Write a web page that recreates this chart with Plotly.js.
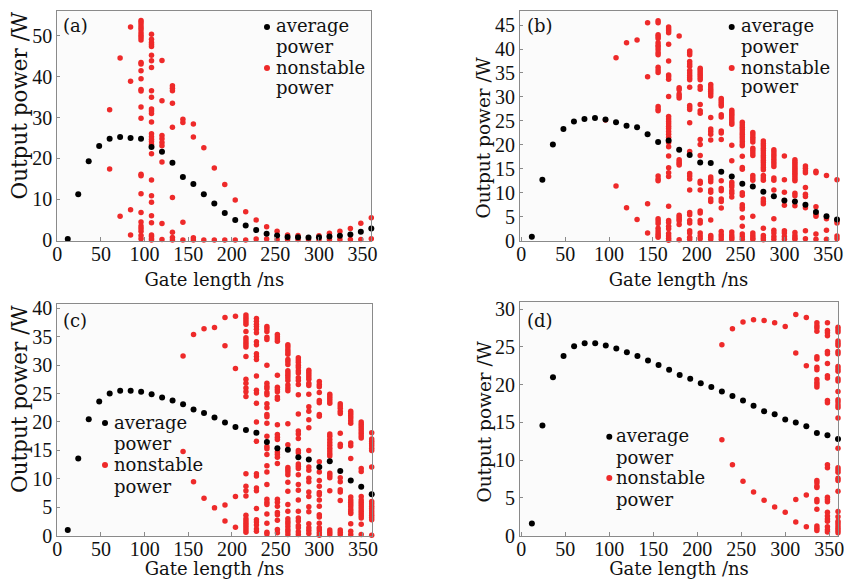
<!DOCTYPE html>
<html><head><meta charset="utf-8">
<script src="https://cdn.plot.ly/plotly-3.0.1.min.js"></script>
<style>html,body{margin:0;padding:0;background:#fff}</style>
</head><body><div id="chart" style="width:844px;height:579px"></div>
<script>
// ---------- DATA ----------
const gateLength = [12,24,36,48,60,72,84,96,108,120,132,144,156,168,180,192,204,216,228,240,252,264,276,288,300,312,324,336,348,360];

const avgA = [0.2,11.2,19.3,23.0,24.8,25.2,25.0,24.8,22.8,21.6,18.9,15.4,13.7,11.2,8.9,6.6,4.9,3.5,2.4,1.5,1.1,0.7,0.65,0.6,0.65,0.8,1.0,1.3,2.0,2.8];
const avgB = [0.8,12.7,20.1,23.3,24.9,25.4,25.6,25.3,24.7,24.0,23.7,22.2,20.6,20.9,19.0,17.9,16.3,16.2,14.4,13.4,11.9,11.3,10.2,9.3,8.4,8.2,7.5,6.0,5.1,4.4];
const avgC = [1.0,13.6,20.5,23.6,25.0,25.5,25.5,25.3,24.9,24.3,23.8,23.1,22.2,21.6,20.8,19.9,19.1,18.6,18.1,16.5,15.4,15.1,13.8,13.4,12.1,13.1,11.4,9.7,8.6,7.3];
const avgD = [1.6,14.6,21.0,23.8,25.1,25.5,25.5,25.2,24.8,24.3,23.8,23.2,22.6,22.0,21.3,20.8,20.2,19.7,19.1,18.5,17.9,17.2,16.5,16.1,15.4,15.0,14.5,13.6,13.3,12.8];

// nonstable power: [gate length, [values]]
const nonstableA = [
 [60,[31.9,17.4]],
 [72,[44.6,5.8]],
 [84,[52.2,38.9,7.4,1.2]],
 [96,[53.8,53.3,52.7,52.1,51.5,50.8,50.2,49.6,49.0,43.5,43.1,41.5,39.5,36.9,36.5,32.6,29.8,16.1,15.7,11.3,6.7,4.4,3.4,2.8,2.1,1.1,0.3]],
 [108,[50.4,49.2,48.4,47.9,47.4,45.3,43.9,42.3,36.6,35.0,32.1,31.6,31.0,28.9,26.0,25.3,24.7,24.1,23.4,21.1,14.7,10.8,9.2,5.9,4.2,1.2,0.8,0.3,0.0]],
 [120,[44.0,34.1,25.6,24.8,23.9,23.1,19.1,4.0,0.1]],
 [132,[37.8,37.2,36.6,33.5,27.6,10.4,1.9,0.6,0.0]],
 [144,[29.6,28.8,4.3,0.0]],
 [156,[28.4,25.2,0.5,0.0]],
 [168,[22.6,0.0]],
 [180,[17.6,0.0]],
 [192,[13.6,0.0]],
 [204,[9.8,0.0]],
 [216,[6.9,0.0]],
 [228,[4.9,0.2]],
 [240,[3.2,0.2]],
 [252,[2.1,0.1]],
 [264,[1.2,0.1]],
 [276,[1.05,0.1]],
 [288,[0.1]],
 [300,[1.0,0.1]],
 [312,[1.6,0.1]],
 [324,[2.1,0.1]],
 [336,[2.8,0.1]],
 [348,[4.1,0.1]],
 [360,[5.4,0.3]]
];
const nonstableB = [
 [96,[25.2]],
 [108,[38.2,11.4]],
 [120,[41.3,6.9]],
 [132,[41.9,4.4]],
 [144,[45.5,34.2,7.7,1.6]],
 [156,[45.9,45.5,43.0,42.6,42.2,41.3,40.8,40.4,39.9,39.3,38.8,36.2,35.6,35.1,28.0,27.5,27.1,13.5,12.9,12.5,4.6,4.1,3.6,2.6,2.0,1.5,1.1,0.7]],
 [168,[44.6,44.2,43.8,43.4,41.0,37.5,34.6,34.2,33.7,30.1,25.9,25.4,24.9,24.4,23.9,23.4,22.8,22.2,21.6,20.5,19.6,17.7,15.2,14.2,13.4,7.2,4.2,3.8,3.0,2.5,1.5,1.0,0.5,0.1]],
 [180,[42.7,31.9,31.5,30.6,30.2,29.8,16.9,16.5,16.1,15.8,5.3,4.9,4.5,4.1,3.4,0.2]],
 [192,[39.6,39.2,38.8,37.4,36.9,36.4,35.5,35.0,34.5,34.0,33.6,32.0,28.2,27.8,27.4,24.6,18.6,14.0,13.5,12.9,10.6,5.9,5.4,4.2,3.7,2.1,1.6,0.7,0.3]],
 [204,[36.0,35.6,35.2,34.8,34.4,34.0,33.6,32.2,31.6,28.4,27.1,26.6,21.1,20.1,17.8,12.4,12.0,10.6,6.2,5.8,4.2,3.7,1.6,1.0,0.4]],
 [216,[32.6,32.1,31.6,31.2,30.7,30.2,25.7,23.3,22.8,22.2,21.0,13.3,12.8,12.3,10.6,10.1,8.7,8.2,4.3,1.1,0.7,0.3]],
 [228,[29.7,29.3,28.9,28.5,28.1,26.3,25.8,22.9,22.5,21.1,12.5,10.9,10.4,8.7,8.2,6.8,1.9,1.3,0.8,0.3]],
 [240,[27.2,26.8,26.4,26.0,25.6,25.2,24.7,24.3,19.9,16.7,12.2,11.7,11.2,10.4,9.9,9.1,1.8,1.2,0.7,0.3]],
 [252,[24.7,24.2,23.7,23.2,22.7,22.2,21.7,21.2,20.7,20.2,19.8,17.6,15.3,14.9,10.0,9.5,7.5,7.0,6.6,4.8,3.0,1.4,0.8,0.3]],
 [264,[22.6,22.1,21.6,21.1,20.6,19.3,18.8,18.3,17.8,13.6,13.1,12.6,5.1,1.6,1.1,0.6,0.3]],
 [276,[20.8,20.3,19.8,19.3,18.8,18.3,17.8,17.3,16.8,16.3,15.8,15.3,14.8,13.6,13.1,12.6,8.7,8.2,7.7,2.6,1.1,0.6,0.2]],
 [288,[19.0,18.5,18.0,17.5,17.0,16.5,16.0,15.5,13.1,12.6,10.6,4.6,2.2,1.6,0.9,0.3]],
 [300,[17.7,12.7,10.1,7.4,2.1,1.6,0.9,0.3]],
 [312,[16.9,16.5,16.1,15.7,15.3,14.9,14.5,14.1,13.7,13.3,12.9,12.5,9.9,9.4,7.3,1.7,1.1,0.6,0.3]],
 [324,[15.6,15.1,14.6,14.2,11.1,9.7,9.2,6.9,2.1,0.4]],
 [336,[14.5,14.2,7.1,5.5,5.1,1.4,0.3]],
 [348,[13.6,4.6,2.2,0.3]],
 [360,[12.7,4.1,3.7,1.0,0.4]]
];
const nonstableC = [
 [144,[31.6,14.8]],
 [156,[35.4,9.5]],
 [168,[36.4,6.6]],
 [180,[36.6,4.9]],
 [192,[38.4,33.4,5.4,2.6]],
 [204,[38.6,29.4,6.9,1.5]],
 [216,[38.8,38.4,38.0,37.6,37.2,35.9,34.8,34.4,34.0,33.6,33.2,31.5,27.5,26.8,26.0,25.3,24.5,10.9,8.7,7.9,7.0,3.6,3.0,2.6,2.2,1.8,1.4,1.0,0.6]],
 [228,[38.2,37.7,37.2,36.8,36.3,35.7,34.1,33.6,32.0,31.5,31.0,28.1,25.6,25.1,23.3,20.0,16.6,10.9,10.5,8.4,7.9,4.8,2.8,2.4,1.9,1.2,0.8]],
 [240,[36.8,36.4,35.9,34.9,34.5,30.0,26.8,26.3,25.9,25.2,24.8,23.2,22.5,21.3,20.9,19.8,17.5,15.7,15.3,14.3,12.3,11.2,9.0,6.4,5.9,5.5,3.8,2.2,0.6,0.3]],
 [252,[35.4,35.0,34.6,34.2,28.2,26.1,25.7,25.3,24.4,24.0,19.5,17.8,17.3,16.9,14.7,14.3,13.8,12.7,6.4,5.9,5.2,4.1,3.7,2.7,1.1,0.5]],
 [264,[33.6,33.2,32.7,32.3,31.9,31.0,30.6,30.1,29.0,28.6,28.2,27.8,27.3,26.5,26.0,25.5,19.7,16.0,12.0,11.6,11.2,10.7,9.4,7.8,5.5,4.3,3.0,2.5,2.1,1.6,1.1,0.7,0.2]],
 [276,[31.3,30.9,30.5,30.0,29.6,29.0,28.6,27.8,27.3,26.6,24.8,21.4,18.4,17.9,17.1,15.0,14.6,12.6,12.2,11.8,10.7,9.0,8.0,6.3,4.3,3.1,2.6,1.8,1.4,0.7,0.2]],
 [288,[29.1,28.7,28.3,27.9,27.5,26.8,26.4,24.9,22.7,21.9,20.4,19.0,15.0,12.1,11.5,10.1,9.5,7.7,6.9,5.1,4.2,2.1,1.4,0.9,0.4]],
 [300,[27.1,26.6,26.2,25.2,23.8,23.4,21.3,21.0,13.0,11.2,9.7,8.7,7.6,7.2,6.3,5.2,3.7,3.3,2.2,1.4,1.0,0.5,0.1]],
 [312,[24.9,24.5,24.1,23.7,23.3,17.9,17.5,16.9,16.4,15.9,15.4,14.9,14.4,14.0,11.0,10.6,10.2,7.9,1.0,0.6,0.2]],
 [324,[23.2,22.8,22.4,21.9,21.5,18.0,16.1,15.7,10.2,9.5,8.1,7.7,6.2,1.0,0.6,0.2]],
 [336,[21.9,21.5,21.1,20.7,20.2,19.8,16.3,15.8,13.6,6.8,6.3,5.9,5.5,5.1,4.6,4.2,3.9,2.1,0.8,0.2]],
 [348,[20.0,19.6,19.2,18.8,18.4,18.0,17.6,17.2,11.8,11.3,6.9,6.3,5.9,5.5,5.1,4.7,4.3,3.9,3.5,3.1,2.0,0.2]],
 [360,[18.1,17.0,16.6,16.2,15.8,15.4,15.0,12.1,6.0,5.6,5.2,4.8,4.4,4.0,3.6,3.2,2.8,0.1]]
];
const nonstableD = [
 [228,[25.3,12.7]],
 [240,[27.4,9.4]],
 [252,[28.3,7.2]],
 [264,[28.6,5.8]],
 [276,[28.5,4.7]],
 [288,[28.2,3.8]],
 [300,[27.7,3.1]],
 [312,[29.3,24.2,4.8,1.8]],
 [324,[28.9,22.5,5.4,1.2]],
 [336,[28.2,27.8,27.5,27.1,23.7,23.4,22.3,22.0,20.7,20.3,20.0,19.7,7.3,7.0,6.6,6.4,4.8,4.5,3.5,1.3,1.0,0.7]],
 [348,[28.2,27.2,26.9,26.5,24.4,24.1,22.8,21.2,20.9,17.9,17.6,9.4,9.0,5.1,4.8,4.5,3.1,2.6,2.2,1.9,1.2,0.8,0.5]],
 [360,[27.6,27.3,27.0,25.8,25.5,25.2,24.4,24.1,22.4,22.1,21.8,20.8,20.5,19.1,18.0,17.7,17.3,17.0,15.6,11.6,9.0,8.7,8.4,7.6,7.3,5.9,3.2,2.5,1.9,1.6,1.3,1.0,0.7,0.4]]
];

const panelLabels = ['(a)','(b)','(c)','(d)'];
const legendLines = ['average','power','nonstable','power'];
const xTitle = 'Gate length /ns';
const yTitle = 'Output power /W';

// ---------- LAYOUT ----------
const W = 844, H = 579;
const FONT = 'DejaVu Serif, serif';
const TICKFONT = 'Liberation Serif, serif';
const RED = '#ee2a2a';
const FRAME = '#8a8a8a';
const INK = '#111';
const px = v => v / W;
const py = v => 1 - v / H;

const panels = [
  {avg: avgA, red: nonstableA, box: [57.3, 371.3, 10.7, 240.7], xr: [0, 360],    yr: [-0.2, 56.2], dy: 10,
   dot: 267,   text: 274,   base: [32, 52, 73, 94],       lab: [61, 25],  yt: [19, 105.5, 21.5]},
  {avg: avgB, red: nonstableB, box: [520, 837, 10.7, 240.7],    xr: [-1.5, 360], yr: [0, 48],      dy: 5,
   dot: 731.7, text: 738.7, base: [32, 52, 73, 93],       lab: [525, 25], yt: [483.5, 138, 18.5]},
  {avg: avgC, red: nonstableC, box: [57.3, 371.7, 304.3, 535.7], xr: [0, 360],   yr: [0, 40.7],    dy: 5,
   dot: 105,   text: 112,   base: [428, 450, 470, 492],   lab: [61, 320], yt: [19, 399, 21.5]},
  {avg: avgD, red: nonstableD, box: [520, 838, 301.7, 535.7],   xr: [-1.5, 360], yr: [0, 31],      dy: 5,
   dot: 609.3, text: 614.3, base: [441.7, 463, 483, 505], lab: [525, 320], yt: [483.5, 422, 18.5]}
];

function flatten(cols) {
  const x = [], y = [];
  cols.forEach(([g, vals]) => vals.forEach(v => { x.push(g); y.push(v); }));
  return {x, y};
}

const data = [];
const layout = {
  width: W, height: H, autosize: false,
  margin: {l: 0, r: 0, t: 0, b: 0},
  paper_bgcolor: '#ffffff', plot_bgcolor: '#fbfbfb',
  showlegend: false,
  font: {family: FONT, size: 18, color: INK},
  annotations: [], shapes: []
};

panels.forEach((p, i) => {
  const n = i + 1;
  const xa = 'x' + (n === 1 ? '' : n), ya = 'y' + (n === 1 ? '' : n);
  const r = flatten(p.red);
  data.push({type: 'scatter', mode: 'markers', x: r.x, y: r.y, xaxis: xa, yaxis: ya,
    name: 'nonstable power', cliponaxis: false, hoverinfo: 'x+y',
    marker: {color: RED, size: 5.5, line: {width: 0}}});
  data.push({type: 'scatter', mode: 'markers', x: gateLength, y: p.avg, xaxis: xa, yaxis: ya,
    name: 'average power', cliponaxis: false, hoverinfo: 'x+y',
    marker: {color: '#000', size: 6, line: {width: 0}}});

  const [x0, x1, top, bot] = p.box;
  layout['xaxis' + (n === 1 ? '' : n)] = {
    domain: [px(x0), px(x1)], range: p.xr, anchor: ya,
    showline: true, mirror: true, linecolor: FRAME, linewidth: 1,
    ticks: 'inside', ticklen: 4, tickcolor: FRAME, tick0: 0, dtick: 50,
    showgrid: false, zeroline: false, ticklabeloverflow: 'allow', ticklabelstandoff: -5,
    tickfont: {family: TICKFONT, size: 20, color: INK},
    title: {text: xTitle, font: {family: FONT, size: 18, color: INK}, standoff: 9}
  };
  layout['yaxis' + (n === 1 ? '' : n)] = {
    domain: [py(bot), py(top)], range: p.yr, anchor: xa,
    showline: true, mirror: true, linecolor: FRAME, linewidth: 1,
    ticks: 'inside', ticklen: 3, tickcolor: FRAME, tick0: 0, dtick: p.dy,
    showgrid: false, zeroline: false, ticklabeloverflow: 'allow',
    tickfont: {family: TICKFONT, size: 20, color: INK}
  };

  // y-axis title (placed like the reference, slightly off-centre)
  layout.annotations.push({xref: 'paper', yref: 'paper', x: px(p.yt[0]), y: py(p.yt[1]),
    xanchor: 'center', yanchor: 'middle', showarrow: false, textangle: -90, text: yTitle,
    font: {family: FONT, size: p.yt[2], color: INK}});
  // panel label
  layout.annotations.push({xref: 'paper', yref: 'paper', x: px(p.lab[0]), y: py(p.lab[1]),
    xanchor: 'left', yanchor: 'middle', showarrow: false, text: panelLabels[i],
    font: {family: FONT, size: 18, color: INK}});
  // legend text
  legendLines.forEach((t, k) => {
    layout.annotations.push({xref: 'paper', yref: 'paper', x: px(p.text), y: py(p.base[k] - 6),
      xanchor: 'left', yanchor: 'middle', showarrow: false, text: t,
      font: {family: FONT, size: 18, color: INK}});
  });
  // legend markers
  [[p.base[0] - 5, '#000'], [p.base[2] - 5, RED]].forEach(([cy, c]) => {
    layout.shapes.push({type: 'circle', xref: 'paper', yref: 'paper',
      x0: px(p.dot - 3), x1: px(p.dot + 3), y0: py(cy + 3), y1: py(cy - 3),
      fillcolor: c, line: {width: 0}});
  });
});

Plotly.newPlot('chart', data, layout, {displayModeBar: false, staticPlot: true});
</script>
</body></html>
